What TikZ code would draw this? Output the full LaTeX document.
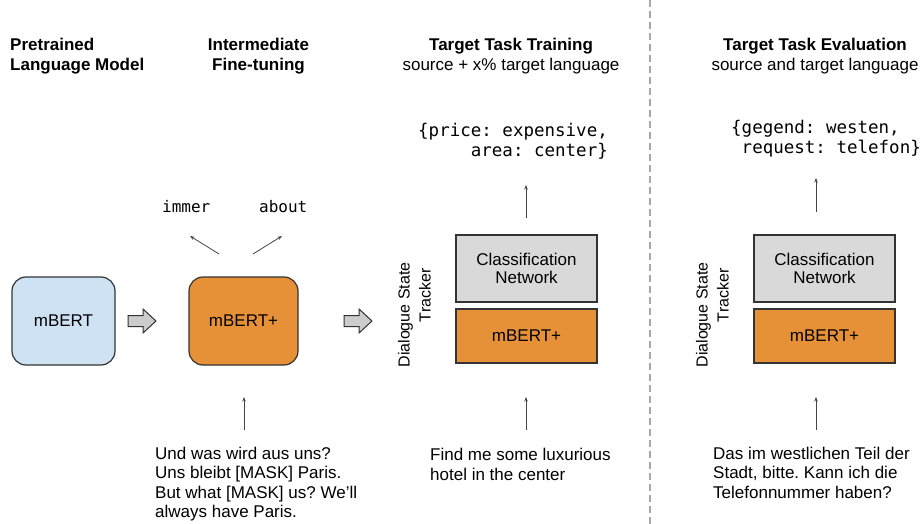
\documentclass[tikz,border=0pt]{standalone}
\usepackage{fontspec}
\setmainfont{Liberation Sans}
\newfontfamily\codefont{DejaVu Sans Mono}
\usetikzlibrary{arrows.meta}
\definecolor{bertblue}{HTML}{CFE2F3}
\definecolor{bertorange}{HTML}{E69138}
\definecolor{clsgray}{HTML}{D9D9D9}
\definecolor{blockgray}{HTML}{CCCCCC}
\definecolor{edgegray}{HTML}{333333}
\definecolor{linegray}{HTML}{444444}
\definecolor{dashgray}{HTML}{A8A8A8}
\frenchspacing
\begin{document}
\frenchspacing
\begin{tikzpicture}[x=1pt,y=-1pt,
  box/.style={draw=edgegray, line width=1.2pt, inner sep=0pt, align=center,
    font=\fontsize{17}{18.5}\selectfont},
  head/.style={inner sep=0pt, font=\fontsize{17}{20}\selectfont},
  body/.style={inner sep=0pt, align=left, anchor=base west, font=\fontsize{17}{19.5}\selectfont\frenchspacing},
  code/.style={inner sep=0pt, align=left, anchor=base west, font=\codefont\fontsize{17.5}{20}\selectfont\frenchspacing},
  smallcode/.style={inner sep=0pt, anchor=base west, font=\codefont\fontsize{16}{18}\selectfont},
  vlabel/.style={inner sep=0pt, rotate=90, align=right, font=\fontsize{16}{21}\selectfont},
  conn/.style={draw=linegray, line width=0.8pt, -{Stealth[length=4.5pt,width=3.5pt]}},
  blockarr/.pic={\draw[draw=edgegray, line width=1pt, fill=blockgray, line join=miter]
    (0,-5.5) -- (15,-5.5) -- (15,-12) -- (28,0) -- (15,12) -- (15,5.5) -- (0,5.5) -- cycle;}
]
\useasboundingbox (0,0) rectangle (923,524);

% headings (base anchor = baseline of the last line)
\node[head, anchor=base west, align=left, font=\fontsize{17}{20}\selectfont\bfseries] (plm) at (10,71) {Pretrained\\Language Model};
\node[head, anchor=base, align=center, font=\fontsize{17}{20}\selectfont\bfseries] (inter) at (258.5,71) {Intermediate\\Fine-tuning};
\node[head, anchor=base, align=center] (ttt) at (511,71) {\textbf{Target Task Training}\\source + x\% target language};
\node[head, anchor=base, align=center] (tte) at (815,71) {\textbf{Target Task Evaluation}\\source and target language};

% separator
\draw[dashgray, line width=1.3pt, dash pattern=on 7pt off 4pt] (650,0) -- (650,524);

% left part
\node[box, rounded corners=14pt, fill=bertblue, minimum width=103pt, minimum height=88pt] (mbert) at (63.5,321) {mBERT};
\node[box, rounded corners=14pt, fill=bertorange, minimum width=109pt, minimum height=88pt] (mbp) at (243.5,321) {mBERT+};
\pic at (128,321) {blockarr};
\pic at (344,321) {blockarr};

\node[smallcode] (immer) at (162,212) {immer};
\node[smallcode] (about) at (259,212) {about};
\coordinate (i1) at (219,254); \coordinate (i2) at (190,236);
\coordinate (b1) at (253,254); \coordinate (b2) at (282,236);
\draw[conn] (i1) -- (i2);
\draw[conn] (b1) -- (b2);

\node[body] (und) at (155,517.5) {Und was wird aus uns?\\Uns bleibt [MASK] Paris.\\But what [MASK] us? We’ll\\always have Paris.};
\coordinate (u1) at (244,430); \coordinate (u2) at (244,397);
\draw[conn] (u1) -- (u2);

% training tracker
\node[vlabel] (dst1) at (414.5,315) {Dialogue State\\Tracker\rule{6pt}{0pt}};
\node[box, fill=clsgray, minimum width=141pt, minimum height=67pt] (cls1) at (526.5,268.5) {Classification\\Network};
\node[box, fill=bertorange, minimum width=141pt, minimum height=54pt] (dstb1) at (526.5,336) {mBERT+};
\node[code] (out1) at (418,156) {\{price: expensive,\\\phantom{xxxxx}area: center\}};
\coordinate (t1) at (526,218); \coordinate (t2) at (526,185);
\draw[conn] (t1) -- (t2);
\node[body] (find) at (430,480) {Find me some luxurious\\hotel in the center};
\coordinate (f1) at (526,430); \coordinate (f2) at (526,397);
\draw[conn] (f1) -- (f2);

% evaluation tracker
\node[vlabel] (dst2) at (712.5,315) {Dialogue State\\Tracker\rule{6pt}{0pt}};
\node[box, fill=clsgray, minimum width=141pt, minimum height=67pt] (cls2) at (824.5,268.5) {Classification\\Network};
\node[box, fill=bertorange, minimum width=141pt, minimum height=54pt] (dstb2) at (824.5,336) {mBERT+};
\node[code] (out2) at (731,153.5) {\{gegend: westen,\\\phantom{x}request: telefon\}};
\coordinate (e1) at (816,212); \coordinate (e2) at (816,178);
\draw[conn] (e1) -- (e2);
\node[body] (das) at (713,498) {Das im westlichen Teil der\\Stadt, bitte. Kann ich die\\Telefonnummer haben?};
\coordinate (d1) at (816,430); \coordinate (d2) at (816,397);
\draw[conn] (d1) -- (d2);
\end{tikzpicture}
\end{document}
